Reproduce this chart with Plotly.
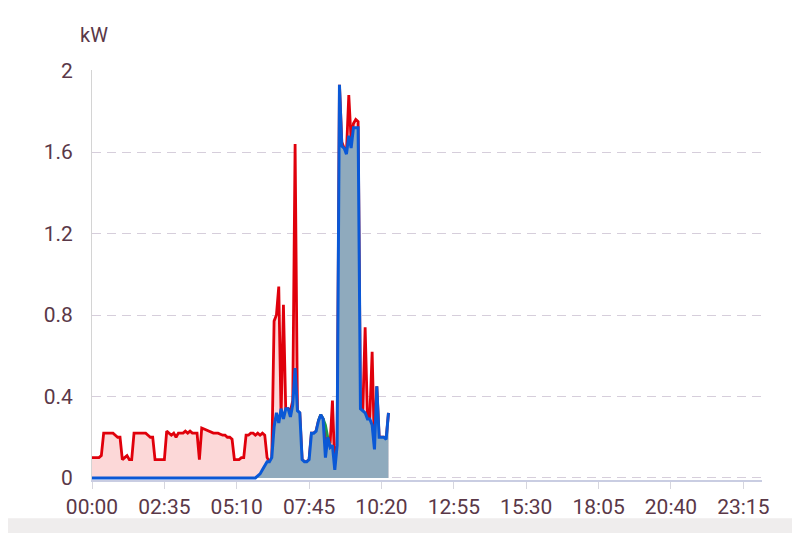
"""Daily power chart: consumption vs. production, 5-minute samples."""
import plotly.graph_objects as go

# 5-minute sample grid from 00:00 to 10:35 (minutes after midnight)
minutes = list(range(0, 640, 5))

# consumption (red)
consumption_kw = [
    0.10, 0.10, 0.10, 0.10, 0.11, 0.22, 0.22, 0.22, 0.22, 0.22,
    0.21, 0.20, 0.20, 0.09, 0.10, 0.11, 0.09, 0.09, 0.22, 0.22,
    0.22, 0.22, 0.22, 0.22, 0.21, 0.20, 0.20, 0.09, 0.09, 0.09,
    0.09, 0.09, 0.23, 0.22, 0.21, 0.22, 0.20, 0.22, 0.22, 0.22,
    0.23, 0.22, 0.23, 0.22, 0.22, 0.22, 0.09, 0.245, 0.24, 0.235,
    0.23, 0.225, 0.22, 0.22, 0.22, 0.215, 0.21, 0.21, 0.20, 0.20,
    0.19, 0.09, 0.09, 0.09, 0.10, 0.10, 0.21, 0.21, 0.22, 0.22,
    0.21, 0.22, 0.21, 0.22, 0.21, 0.10, 0.08, 0.09, 0.77, 0.80,
    0.94, 0.30, 0.85, 0.33, 0.34, 0.33, 0.38, 1.64, 0.33, 0.32,
    0.09, 0.08, 0.08, 0.09, 0.22, 0.22, 0.23, 0.28, 0.31, 0.29,
    0.20, 0.18, 0.17, 0.38, 0.06, 0.16, 1.93, 1.65, 1.62, 1.60,
    1.88, 1.66, 1.74, 1.76, 1.75, 0.34, 0.33, 0.74, 0.30, 0.30,
    0.62, 0.14, 0.45, 0.20, 0.20, 0.20, 0.19, 0.32,
]

# production (blue)
production_kw = [
    0.00, 0.00, 0.00, 0.00, 0.00, 0.00, 0.00, 0.00, 0.00, 0.00,
    0.00, 0.00, 0.00, 0.00, 0.00, 0.00, 0.00, 0.00, 0.00, 0.00,
    0.00, 0.00, 0.00, 0.00, 0.00, 0.00, 0.00, 0.00, 0.00, 0.00,
    0.00, 0.00, 0.00, 0.00, 0.00, 0.00, 0.00, 0.00, 0.00, 0.00,
    0.00, 0.00, 0.00, 0.00, 0.00, 0.00, 0.00, 0.00, 0.00, 0.00,
    0.00, 0.00, 0.00, 0.00, 0.00, 0.00, 0.00, 0.00, 0.00, 0.00,
    0.00, 0.00, 0.00, 0.00, 0.00, 0.00, 0.00, 0.00, 0.00, 0.00,
    0.00, 0.01, 0.02, 0.04, 0.06, 0.08, 0.08, 0.10, 0.25, 0.32,
    0.27, 0.34, 0.29, 0.34, 0.34, 0.30, 0.36, 0.54, 0.33, 0.32,
    0.09, 0.08, 0.08, 0.09, 0.22, 0.22, 0.23, 0.28, 0.31, 0.29,
    0.10, 0.20, 0.15, 0.16, 0.04, 0.16, 1.93, 1.63, 1.62, 1.59,
    1.68, 1.62, 1.72, 1.72, 1.72, 0.34, 0.33, 0.32, 0.29, 0.29,
    0.26, 0.14, 0.45, 0.20, 0.20, 0.20, 0.19, 0.32,
]

# third series (green), only visible where it pokes out above the blue one
green_minutes = [485, 490, 495, 500, 505, 510]
green_kw = [0.28, 0.31, 0.29, 0.26, 0.20, 0.15]

tick_minutes = [0, 155, 310, 465, 620, 775, 930, 1085, 1240, 1395]
tick_labels = ["00:00", "02:35", "05:10", "07:45", "10:20",
               "12:55", "15:30", "18:05", "20:40", "23:15"]
y_ticks = [0, 0.4, 0.8, 1.2, 1.6, 2]
y_tick_labels = ["0", "0.4", "0.8", "1.2", "1.6", "2"]

RED = "#e0000b"
PINK_FILL = "#fcd8d8"
BLUE = "#0a58d6"
BLUE_FILL = "#8faabd"
GREEN = "#1f9a4c"
TEXT = "#5a3848"

fig = go.Figure()
fig.add_trace(go.Scatter(
    x=minutes, y=consumption_kw, mode="lines",
    line=dict(color=RED, width=2.8),
    fill="tozeroy", fillcolor=PINK_FILL,
    showlegend=False,
))
fig.add_trace(go.Scatter(
    x=green_minutes, y=green_kw, mode="lines",
    line=dict(color=GREEN, width=2.8),
    showlegend=False,
))
fig.add_trace(go.Scatter(
    x=minutes, y=production_kw, mode="lines",
    line=dict(color=BLUE, width=3),
    fill="tozeroy", fillcolor=BLUE_FILL,
    showlegend=False,
))

fig.add_annotation(
    x=0.003, y=1.085, xref="paper", yref="paper",
    text="kW", showarrow=False,
    font=dict(size=20, color=TEXT), xanchor="center", yanchor="middle",
)
# grey strip at the very bottom of the screenshot
fig.add_shape(
    type="rect", xref="paper", yref="paper",
    x0=-0.2, x1=1.2, y0=-0.093, y1=-0.14,
    fillcolor="#efeded", line_width=0, layer="below",
)

# the page body adds an 8 px offset, so the figure is 792x525
fig.update_layout(
    width=792, height=525,
    margin=dict(l=84, r=38, t=62, b=53),
    plot_bgcolor="white", paper_bgcolor="white",
    font=dict(family="Roboto", color=TEXT),
    xaxis=dict(
        range=[0, 1435],
        tickvals=tick_minutes, ticktext=tick_labels,
        tickfont=dict(size=21, color=TEXT),
        showgrid=False, zeroline=False,
        showline=True, linecolor="#c9cde2", linewidth=1.5,
        ticks="outside", ticklen=7, tickcolor="#d6d6de", tickwidth=1,
    ),
    yaxis=dict(
        range=[-0.01, 2.003],
        tickvals=y_ticks, ticktext=y_tick_labels,
        tickfont=dict(size=21, color=TEXT),
        showgrid=True, gridcolor="#d6cedb", griddash="9px,6px", gridwidth=1.3,
        zeroline=False,
        showline=True, linecolor="#d4d4d4", linewidth=1,
        ticks="", ticklabelstandoff=14,
    ),
)

fig.write_html("out.html")
